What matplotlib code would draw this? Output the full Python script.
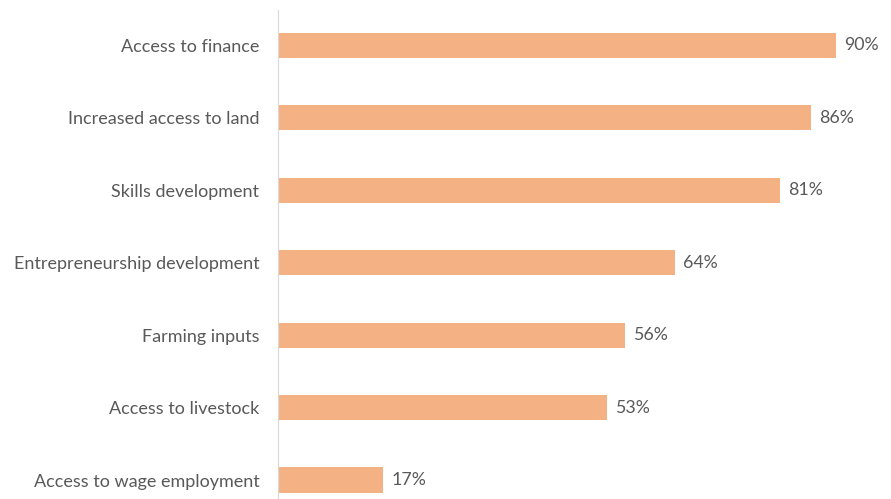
import matplotlib.pyplot as plt

categories = ['Access to finance', 'Increased access to land', 'Skills development',
              'Entrepreneurship development', 'Farming inputs', 'Access to livestock',
              'Access to wage employment']
values = [90, 86, 81, 64, 56, 53, 17]

bar_color = '#F4B183'
text_color = '#595959'

fig = plt.figure(figsize=(8.91, 4.99), dpi=100)
ax = fig.add_axes([278 / 891, 0, (885.6 - 278) / 891, 489 / 499])

y = list(range(len(categories)))
ax.barh(y, values, height=0.345, color=bar_color)

# value labels just past the bar ends
for yi, v in zip(y, values):
    ax.text(v + 1.3, yi, f'{v}%', va='center', ha='left', fontsize=12.8,
            family='Lato', color=text_color)

ax.set_xlim(0, 98)
ax.set_ylim(6.262, -0.483)
ax.set_yticks(y)
ax.set_yticklabels(categories, fontsize=13, family='Lato', color=text_color)
ax.tick_params(axis='y', length=0, pad=13.5)
ax.set_xticks([])

for side in ['top', 'right', 'bottom']:
    ax.spines[side].set_visible(False)
ax.spines['left'].set_color('#D9D9D9')

fig.savefig('out.png', dpi=100)
